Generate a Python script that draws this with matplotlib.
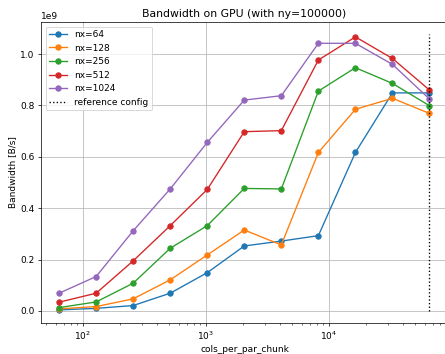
import numpy as np
import matplotlib.pyplot as plt

# chunk sizes on the x axis
cols = [64, 128, 256, 512, 1024, 2048, 4096, 8192, 16384, 32768, 65536]

# bandwidth per nx, in units of 1e9 B/s
bw_64 = [0.004, 0.010, 0.021, 0.069, 0.149, 0.253, 0.272, 0.293, 0.617, 0.849, 0.849]
bw_128 = [0.008, 0.017, 0.047, 0.121, 0.218, 0.315, 0.257, 0.617, 0.785, 0.828, 0.769]
bw_256 = [0.013, 0.035, 0.108, 0.244, 0.332, 0.477, 0.475, 0.856, 0.947, 0.886, 0.799]
bw_512 = [0.034, 0.069, 0.195, 0.332, 0.473, 0.698, 0.702, 0.977, 1.067, 0.983, 0.860]
bw_1024 = [0.069, 0.134, 0.312, 0.475, 0.656, 0.821, 0.838, 1.042, 1.042, 0.960, 0.825]

series = {'nx=64': bw_64, 'nx=128': bw_128, 'nx=256': bw_256,
          'nx=512': bw_512, 'nx=1024': bw_1024}

ref_cols = 65536
ref_top = 1.08

dpi = 65
fig = plt.figure(figsize=(445 / dpi, 354 / dpi), dpi=dpi)
ax = fig.add_axes([41 / 445, 1 - 323 / 354, 407 / 445, 301 / 354])

for name, vals in series.items():
    ax.plot(cols, np.array(vals) * 1e9, marker='o', label=name)

ax.vlines(ref_cols, 0, ref_top * 1e9, colors='k', linestyles='dotted',
          label='reference config')

ax.set_xscale('log')
ax.set_xlim(10 ** 1.659, 10 ** 4.967)
ax.set_ylim(-0.047e9, 1.125e9)
ax.set_title('Bandwidth on GPU (with ny=100000)')
ax.set_xlabel('cols_per_par_chunk')
ax.set_ylabel('Bandwidth [B/s]')
ax.grid(True)
ax.legend(loc='upper left')

fig.savefig('out.png', dpi=dpi)
